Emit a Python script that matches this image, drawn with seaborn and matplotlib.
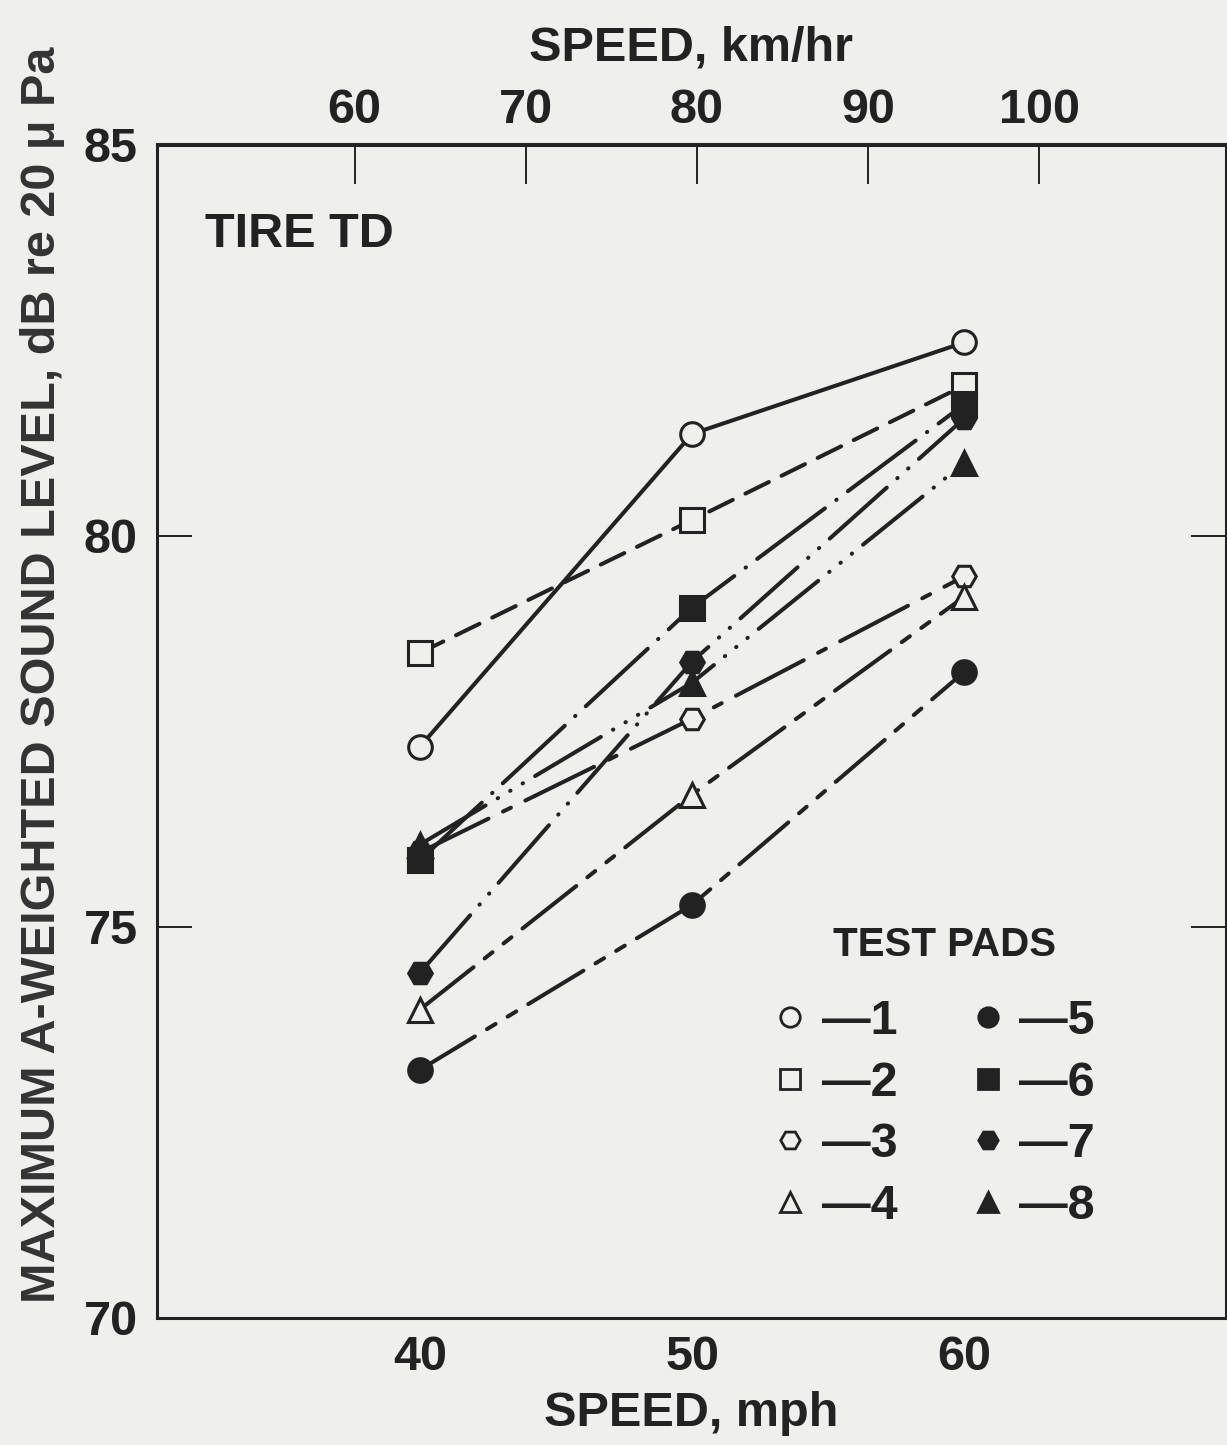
import pandas as pd
import numpy as np
import matplotlib.pyplot as plt
import seaborn as sns
from matplotlib.lines import Line2D

# speeds (mph) and max A-weighted sound level (dB) for each test pad, tire TD
speed_mph = [40, 50, 60]
pad_names = ['1', '2', '3', '4', '5', '6', '7', '8']
pad1 = [77.30, 81.30, 82.47]
pad2 = [78.50, 80.20, 81.92]
pad3 = [75.95, 77.66, 79.48]
pad4 = [73.94, 76.69, 79.22]
pad5 = [73.17, 75.28, 78.26]
pad6 = [75.85, 79.08, 81.68]
pad7 = [74.41, 78.39, 81.50]
pad8 = [76.05, 78.12, 80.93]
levels = [pad1, pad2, pad3, pad4, pad5, pad6, pad7, pad8]
km_ticks = [60, 70, 80, 90, 100]

bg = '#efefed'
ink = '#222222'

sns.set_style('white')
plt.rcParams['font.family'] = ['Liberation Sans', 'DejaVu Sans']
plt.rcParams['font.weight'] = 'bold'
plt.rcParams['text.color'] = ink
plt.rcParams['axes.labelcolor'] = ink
plt.rcParams['xtick.color'] = ink
plt.rcParams['ytick.color'] = ink

fs = 35

rows = []
for name, vals in zip(pad_names, levels):
    for s, v in zip(speed_mph, vals):
        rows.append({'pad': name, 'mph': s, 'dB': v})
df = pd.DataFrame(rows)

markers = {'1': 'o', '2': 's', '3': 'H', '4': '^', '5': 'o', '6': 's', '7': 'H', '8': '^'}
filled = {'1': False, '2': False, '3': False, '4': False, '5': True, '6': True, '7': True, '8': True}
dashes = {
    '1': (None, None),
    '2': (6.5, 3.5),
    '3': (19, 4, 2.2, 4),
    '4': (17, 3.5, 2.5, 3.5, 2.5, 3.5),
    '5': (16, 3.5, 2.5, 3.5, 2.5, 3.5),
    '6': (21, 3.5, 0.1, 3.5),
    '7': (19, 3.5, 0.1, 3.5, 0.1, 3.5),
    '8': (19, 3.5, 0.1, 3.5, 0.1, 3.5, 0.1, 3.5),
}

fig = plt.figure(figsize=(12.27, 14.45), dpi=100, facecolor=bg)
ax = fig.add_axes([0.128, 0.088, 0.871, 0.812])
ax.set_facecolor(bg)

for p in pad_names:
    sub = df[df['pad'] == p]
    ls = '-' if dashes[p][0] is None else (0, dashes[p])
    sns.lineplot(data=sub, x='mph', y='dB', ax=ax, color=ink, linewidth=2.9,
                 linestyle=ls, dash_capstyle='round', solid_capstyle='round',
                 marker=markers[p], markersize=17,
                 markerfacecolor=ink if filled[p] else bg,
                 markeredgecolor=ink, markeredgewidth=2.2, legend=False)

ax.set_xlim(30.35, 69.6)
ax.set_ylim(70, 85)
ax.set_xticks(speed_mph)
ax.set_yticks([70, 75, 80, 85])
ax.tick_params(axis='x', direction='in', length=29, width=1.4, pad=12, labelsize=fs)
ax.tick_params(axis='y', direction='in', length=25, width=1.4, pad=14, labelsize=fs,
               right=True, left=True)
for sp in ax.spines.values():
    sp.set_visible(True)
    sp.set_linewidth(2.2)
    sp.set_color(ink)

ax.set_xlabel('SPEED, mph', fontsize=fs, fontweight='bold', labelpad=8)
ax.set_ylabel('MAXIMUM A-WEIGHTED SOUND LEVEL, dB re 20 \u03bc Pa', fontsize=fs,
              fontweight='bold', color='#333333')
ax.yaxis.set_label_coords(-0.086, 0.548)

# km/hr scale along the top (calibrated to the drawing)
top = ax.secondary_xaxis('top', functions=(lambda m: (m + 0.10) / 0.6285,
                                           lambda k: k * 0.6285 - 0.10))
top.set_xticks(km_ticks)
top.tick_params(direction='in', length=29, width=1.4, pad=8, labelsize=fs)
top.set_xlabel('SPEED, km/hr', fontsize=fs, fontweight='bold', labelpad=20)
top.spines['top'].set_linewidth(2.2)

ax.text(0.045, 0.923, 'TIRE TD', transform=ax.transAxes, fontsize=fs,
        fontweight='bold', va='center', ha='left')
ax.text(0.737, 0.318, 'TEST PADS', transform=ax.transAxes, fontsize=29,
        fontweight='bold', va='center', ha='center')

handles = []
for p in pad_names:
    handles.append(Line2D([], [], linestyle='none', marker=markers[p], markersize=14,
                          markerfacecolor=ink if filled[p] else bg,
                          markeredgecolor=ink, markeredgewidth=2.0))
leg = ax.legend(handles, ['\u2014' + p for p in pad_names], ncol=2,
                frameon=False, loc='upper left', bbox_to_anchor=(0.529, 0.309),
                fontsize=fs, handlelength=1.0, handletextpad=0.15,
                columnspacing=1.35, labelspacing=0.34)

fig.savefig('out.png', dpi=100, facecolor=bg)
